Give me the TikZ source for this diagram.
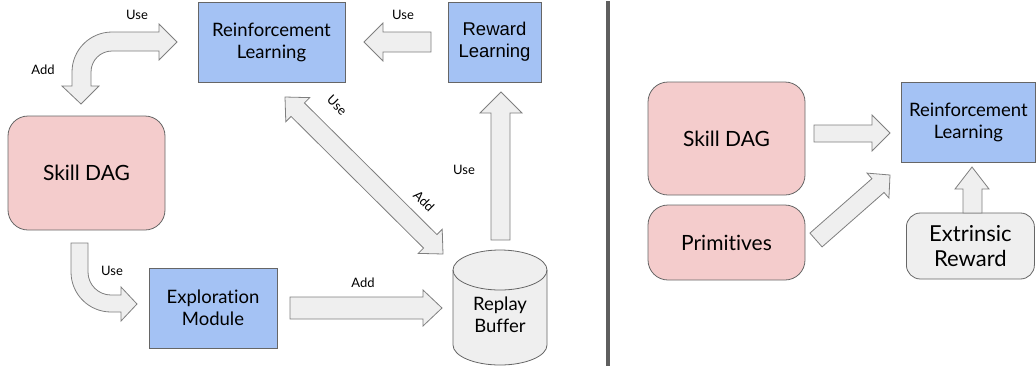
\documentclass[tikz,border=0pt]{standalone}
\usepackage{fontspec}
\setmainfont{Lato}[Ligatures={NoCommon}]
\newfontfamily\arialfont{Liberation Sans}
\usetikzlibrary{calc}

\definecolor{boxblue}{HTML}{A4C2F4}
\definecolor{boxpink}{HTML}{F4CCCC}
\definecolor{boxgray}{HTML}{EFEFEF}
\definecolor{edgegray}{HTML}{666666}
\definecolor{arrowedge}{HTML}{7F7F7F}
\definecolor{rulegray}{HTML}{5F5F5F}

\tikzset{
  panel/.style={draw=edgegray, line width=0.8pt, align=center, inner sep=0pt},
  bluebox/.style={panel, fill=boxblue, font=\fontsize{18.5}{22}\selectfont},
  pinkbox/.style={panel, fill=boxpink, rounded corners=20pt, font=\fontsize{21}{26}\selectfont},
  graybox/.style={panel, fill=boxgray, rounded corners=14pt, font=\fontsize{22}{25}\selectfont},
  blockarrow/.style={draw=arrowedge, fill=boxgray, line width=0.8pt, line join=miter},
  tag/.style={font=\fontsize{13}{15}\selectfont, inner sep=1pt},
}

\begin{document}
\begin{tikzpicture}[x=1pt, y=1pt, yscale=-1]
\useasboundingbox (0,0) rectangle (1036,368);

% ---------------- left panel: boxes ----------------
\node[bluebox, minimum width=147pt, minimum height=80pt] (rl) at (271.5,42) {Reinforcement\\Learning};
\node[bluebox, minimum width=93pt, minimum height=80pt, font=\arialfont\fontsize{18.5}{22}\selectfont] (rwd) at (494.5,42) {Reward\\Learning};
\node[pinkbox, minimum width=157pt, minimum height=114pt] (dag) at (86.5,173) {Skill DAG};
\node[bluebox, minimum width=128pt, minimum height=80pt] (expl) at (213,308) {Exploration\\Module};

% replay buffer cylinder
\draw[panel, fill=boxgray] (453,270) -- (453,345) arc[start angle=180, end angle=0, x radius=47pt, y radius=20pt]
  -- (547,270) arc[start angle=0, end angle=-180, x radius=47pt, y radius=20pt] -- cycle;
\draw[panel] (453,270) arc[start angle=180, end angle=0, x radius=47pt, y radius=20pt];
\node[align=center, font=\fontsize{18.5}{22}\selectfont] (replay) at (500,315) {Replay\\Buffer};

% ---------------- left panel: arrows ----------------
% skill DAG <-> reinforcement learning (bent)
\draw[blockarrow] (81,104) -- (99,86) -- (91,86) -- (91,72)
  arc[start angle=180, end angle=270, radius=21pt] -- (159,51) -- (159,60) -- (177,42) -- (159,24) -- (159,32) -- (112,32)
  arc[start angle=270, end angle=180, radius=40pt] -- (72,86) -- (62,86) -- cycle;
\node[tag] (tUse1) at (137,15) {Use};
\node[tag] (tAdd1) at (43,70) {Add};

% reward learning -> reinforcement learning
\draw[blockarrow] (431,32) -- (383,32) -- (383,23) -- (364,42) -- (383,61) -- (383,52) -- (431,52) -- cycle;
\node[tag] (tUse2) at (403,15) {Use};

% reinforcement learning <-> replay buffer (double headed)
\coordinate (dA) at (285,97);
\coordinate (dB) at (443,254);
\coordinate (dA0) at ($(dA)!18pt!(dB)$);
\coordinate (dB0) at ($(dB)!18pt!(dA)$);
\draw[blockarrow] (dA) -- ($(dA0)!17pt!90:(dB)$) -- ($(dA0)!9.5pt!90:(dB)$) -- ($(dB0)!9.5pt!-90:(dA)$)
  -- ($(dB0)!17pt!-90:(dA)$) -- (dB) -- ($(dB0)!17pt!90:(dA)$) -- ($(dB0)!9.5pt!90:(dA)$)
  -- ($(dA0)!9.5pt!-90:(dB)$) -- ($(dA0)!17pt!-90:(dB)$) -- cycle;
\node[tag, rotate=-45] (tUse3) at (337,105) {Use};
\node[tag, rotate=-45] (tAdd3) at (424,201) {Add};

% replay buffer -> reward learning
\draw[blockarrow] (491,240) -- (491,113) -- (480,113) -- (501,92) -- (522,113) -- (510,113) -- (510,240) -- cycle;
\node[tag] (tUse4) at (464,170) {Use};

% skill DAG -> exploration module (bent)
\draw[blockarrow] (71,243) -- (71,272) arc[start angle=180, end angle=90, radius=40pt]
  -- (121,312) -- (121,321) -- (137,304) -- (121,287) -- (121,295) -- (111,295)
  arc[start angle=90, end angle=180, radius=23pt] -- (88,243) -- cycle;
\node[tag] (tUse5) at (112,271) {Use};

% exploration module -> replay buffer
\draw[blockarrow] (290,297) -- (423,297) -- (423,290) -- (442,308) -- (423,326) -- (423,319) -- (290,319) -- cycle;
\node[tag] (tAdd6) at (363,283) {Add};

% ---------------- divider ----------------
\draw[rulegray, line width=3.5pt] (608,1) -- (608,366);

% ---------------- right panel ----------------
\node[pinkbox, minimum width=157pt, minimum height=113pt] (dag2) at (726.5,138.5) {Skill DAG};
\node[pinkbox, minimum width=157pt, minimum height=75pt] (prim) at (726.5,242.5) {Primitives};
\node[bluebox, minimum width=134pt, minimum height=80pt, anchor=west] (rl2) at (901,122) {Reinforcement\\Learning};
\node[graybox, minimum width=128pt, minimum height=66pt, anchor=west] (ext) at (906,246) {Extrinsic\\Reward};

% skill DAG -> reinforcement learning
\draw[blockarrow] (814,125) -- (872,125) -- (872,115) -- (890,133) -- (872,151) -- (872,142) -- (814,142) -- cycle;

% primitives -> reinforcement learning (diagonal)
\coordinate (pA) at (816,240);
\coordinate (pB) at (890,175);
\coordinate (pB0) at ($(pB)!16pt!(pA)$);
\draw[blockarrow] ($(pA)!9.2pt!90:(pB)$) -- ($(pB0)!9.2pt!-90:(pA)$) -- ($(pB0)!16.6pt!-90:(pA)$) -- (pB)
  -- ($(pB0)!16.6pt!90:(pA)$) -- ($(pB0)!9.2pt!90:(pA)$) -- ($(pA)!9.2pt!-90:(pB)$) -- cycle;

% extrinsic reward -> reinforcement learning
\draw[blockarrow] (963,213) -- (963,189) -- (955,189) -- (972,167) -- (989,189) -- (982,189) -- (982,213) -- cycle;
\end{tikzpicture}
\end{document}
